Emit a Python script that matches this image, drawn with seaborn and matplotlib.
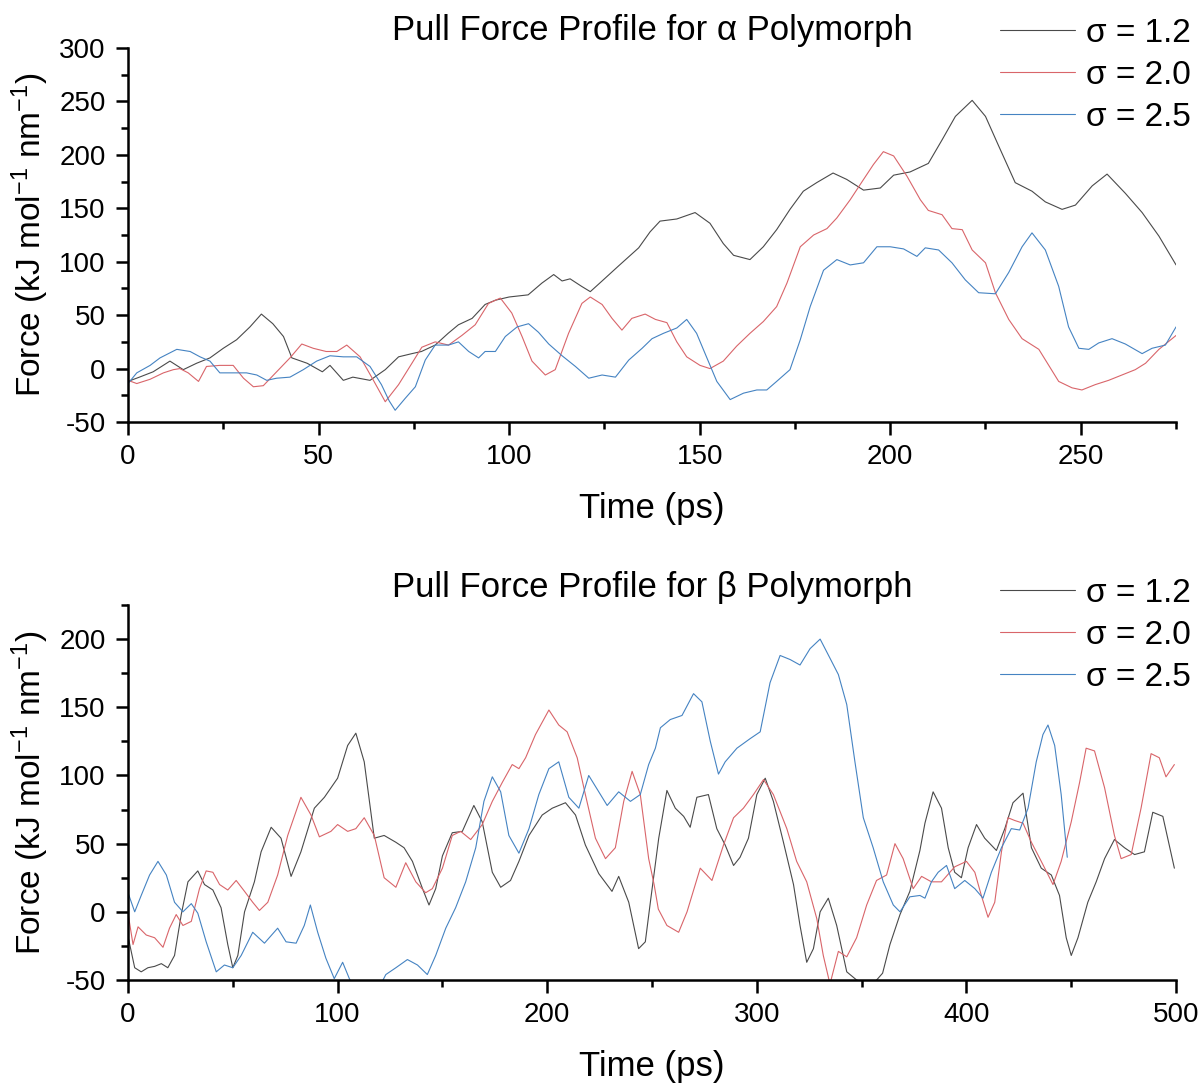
import numpy as np
import pandas as pd
import matplotlib
matplotlib.use("Agg")
import matplotlib.pyplot as plt
from matplotlib.ticker import MultipleLocator
import seaborn as sns

# ---------------- data: alpha polymorph ----------------
alpha_s12_t = [0, 3, 6.6, 11, 14.5, 18, 21.5, 25, 28.5, 32, 35, 38, 40.8, 43, 47, 51, 53, 56.5, 59, 63.5,
               67.5, 71, 74.5, 77, 80.6, 84, 86.7, 90.3, 93.7, 96.4, 100, 105, 108.6, 111.7, 113.9, 116, 119,
               121.3, 124.4, 128.7, 134, 137, 139.6, 144, 148.8, 152.7, 156.2, 158.9, 163.2, 166.7, 170.2,
               173.7, 177.2, 180.7, 185, 188.6, 193, 197.4, 200.9, 205.2, 210, 213.6, 217.1, 221.5, 225,
               228.5, 232.8, 237.2, 240.7, 245.1, 248.6, 253, 256.9, 261.7, 266.1, 270.5, 275]
alpha_s12_v = [-12, -8, -3, 7, -1, 5, 10, 19, 27, 39, 51, 42, 30, 10, 5, -3, 3, -11, -8, -11,
               -1, 11, 14, 16, 22, 33, 41, 47, 60, 64, 67, 69, 80, 88, 82, 84, 77,
               72, 82, 96, 113, 128, 138, 140, 146, 136, 117, 106, 102, 114, 130,
               149, 166, 174, 183, 177, 167, 169, 181, 184, 192, 214, 236, 251, 236,
               208, 174, 166, 156, 149, 153, 171, 182, 164, 146, 124, 97]

alpha_s20_t = [0, 2.3, 5.8, 9.3, 11.9, 13.6, 15.8, 18.5, 20.6, 24.1, 27.6, 30.3, 32.9, 35.5, 39, 42.5, 45.6,
               48.6, 52, 54.8, 57.4, 60.9, 64.4, 67.5, 71, 74.5, 77.1, 80.6, 84.1, 87.6, 91.1, 94.6, 97.7,
               100.7, 103.4, 106, 109.5, 112.1, 115.6, 119.1, 121.3, 124.4, 127, 129.6, 132.2, 135.7, 138.4,
               141.4, 144, 146.6, 150.1, 152.7, 156.2, 159.7, 163.2, 166.7, 170.2, 172.9, 176.4, 179.9,
               183.4, 186, 189.5, 193, 195.6, 198.2, 200.9, 204.4, 207.9, 210, 213.6, 216.2, 218.9, 221.5,
               225, 227.6, 231.1, 234.6, 239, 241.6, 244.2, 247.7, 250.3, 253.8, 257.3, 260.8, 264.3, 267,
               270.5, 275]
alpha_s20_v = [-11, -14, -10, -4, -1, 0, -4, -12, 2, 3, 3, -9, -17, -16, -3, 10, 23,
               19, 16, 16, 22, 11, -11, -31, -15, 5, 20, 25, 22, 31, 41, 61, 66,
               52, 30, 7, -6, -1, 33, 61, 67, 60, 47, 36, 47, 51, 46,
               43, 25, 11, 3, 0, 7, 21, 33, 44, 58, 80, 114, 125,
               131, 141, 158, 177, 191, 203, 199, 180, 158, 148, 144, 131, 130, 111,
               99, 71, 46, 28, 18, 3, -12, -18, -20, -15, -11, -6, -1, 5,
               18, 31]

alpha_s25_t = [0, 2.3, 5.8, 8.4, 12.8, 16.3, 18.9, 21.5, 24.1, 27.6, 31.1, 33.8, 36.4, 39, 42.5, 46, 49.5,
               53, 56.5, 60, 63.5, 66.5, 68.5, 70.1, 72.7, 75.4, 78, 80.6, 84.1, 86.7, 89.4, 92, 93.7, 96.4,
               99, 102.1, 105.1, 107.7, 110.4, 113.9, 117.4, 120.9, 124.4, 127.9, 131.4, 134.9, 137.5,
               140.5, 144, 146.6, 149.2, 151.9, 154.5, 158, 161.5, 165, 167.6, 170.2, 173.7, 176.4, 179,
               182.5, 186, 189.5, 193, 196.5, 200, 203.5, 207, 209.2, 212.7, 216.2, 219.7, 223.2, 227.6,
               231.1, 234.6, 237.2, 240.7, 244.2, 246.8, 249.5, 252.1, 254.7, 258.2, 261.7, 266.1, 268.7,
               272.2, 275]
alpha_s25_v = [-14, -4, 3, 10, 18, 16, 11, 7, -4, -4, -4, -6, -11, -9, -8, -1, 7,
               12, 11, 11, 2, -15, -30, -39, -28, -17, 8, 22, 22, 25, 16, 10, 16, 16,
               30, 39, 42, 34, 23, 12, 2, -9, -6, -8, 8, 19, 28,
               33, 38, 46, 33, 10, -12, -29, -23, -20, -20, -12, -1, 27, 58,
               92, 102, 97, 99, 114, 114, 112, 105, 113, 111, 99, 83, 71, 70,
               90, 114, 127, 111, 77, 39, 19, 18, 24, 28, 23, 14, 19,
               22, 39]

# ---------------- data: beta polymorph ----------------
beta_s12_t = [0, 3.2, 6.3, 9.5, 12.7, 15.9, 19, 22.2, 25.4, 28.6, 33.3, 36.5, 40.5, 44.4, 47.6, 50, 52.4,
              55.6, 60.3, 63.5, 68.3, 73, 77.8, 82.5, 88.9, 93.7, 100, 104.8, 108.7, 112.7, 117.5, 122.2,
              127.8, 131.7, 135.7, 140.5, 143.6, 146.8, 150, 154.7, 159.5, 165, 169, 173.8, 177.8, 182.5,
              186.5, 191.3, 197.6, 202.4, 208.7, 213.5, 218.2, 224.6, 230.9, 234.1, 238.9, 243.6, 246.8,
              249.2, 253.2, 257.1, 261.1, 265.1, 268.2, 271.4, 276.9, 280.9, 284.9, 288.9, 292, 296, 300,
              304, 307.9, 312.7, 317.5, 320.6, 323.8, 327, 330.2, 334.1, 338.1, 342.9, 347.6, 352.4, 356,
              360, 363.5, 368.3, 373, 375.4, 377.8, 380.2, 384.1, 388.1, 391.3, 394.4, 397.6, 400.8, 404.8,
              408.7, 414.3, 418.3, 422.2, 427, 431, 435.7, 440.5, 444.4, 447.6, 450, 453.2, 457.9, 461.9,
              465.9, 470.6, 475.4, 480.2, 484.9, 488.9, 493.7, 499.2]
beta_s12_v = [-18, -41, -44, -41, -40, -38, -41, -32, -2, 22, 30, 20, 16, 3, -24, -41, -32,
              0, 22, 44, 62, 54, 26, 44, 76, 84, 98, 122, 131, 110, 54, 56,
              51, 47, 37, 17, 5, 17, 41, 58, 59, 78, 66, 29, 18, 23,
              37, 56, 71, 76, 80, 71, 49, 28, 15, 26, 7, -27, -22,
              7, 54, 89, 76, 70, 62, 84, 86, 61, 49, 34, 40, 54, 86,
              98, 81, 51, 20, -10, -37, -27, 0, 10, -10, -44, -50, -53, -52,
              -45, -24, -2, 15, 30, 45, 65, 88, 76, 47, 29, 25, 47, 64,
              54, 45, 61, 80, 87, 47, 32, 27, 12, -19, -32, -19, 7, 22,
              39, 53, 47, 42, 44, 73, 70, 32]

beta_s20_t = [0, 2.4, 4.8, 8.7, 12.7, 16.7, 19.8, 23, 26.2, 30.2, 34.1, 37.3, 40.5, 43.7, 47.6, 51.6, 55.6,
              59.5, 62.7, 66.7, 71.4, 76.2, 82.5, 87.3, 91.3, 96.8, 100, 104.8, 108.7, 112.7, 117.5, 122.2,
              127.8, 132.5, 137.3, 142, 145.2, 150, 154.7, 158.7, 163.5, 169, 173.8, 178.6, 183.3, 186.5,
              189.7, 194.4, 200.8, 205.5, 209.5, 214.3, 218.2, 223, 227.8, 232.5, 236.5, 240.5, 244.4,
              248.4, 251, 253, 257.1, 262.7, 266.7, 273, 278.6, 284.1, 288.9, 293.6, 298.4, 303.2, 307.9,
              314.3, 319, 323.8, 328.6, 331.7, 334.9, 338.9, 342.9, 347.6, 352.4, 357.1, 361.9, 365.9,
              369.8, 374.6, 378.6, 383.3, 388.1, 394.4, 400, 404, 407.1, 410.3, 413.5, 416.7, 419.8, 423,
              427, 431, 435.7, 441.3, 445.2, 450, 454, 457.1, 461.1, 465.9, 470.6, 473.8, 478.6, 483.3,
              488.1, 492, 495.2, 499.2]
beta_s20_v = [-1, -24, -11, -17, -19, -26, -12, -2, -10, -7, 17, 30, 29, 20, 16, 23, 15,
              7, 1, 7, 27, 56, 84, 71, 55, 59, 64, 59, 61, 69, 56, 25,
              18, 36, 22, 14, 17, 32, 56, 59, 53, 64, 81, 95, 108, 105,
              113, 130, 148, 137, 132, 113, 86, 54, 39, 47, 81, 103, 86,
              39, 20, 2, -10, -15, 0, 32, 23, 49, 69, 76, 86, 97, 86,
              61, 37, 22, -5, -32, -53, -29, -33, -19, 5, 23, 27, 50,
              39, 17, 26, 22, 22, 33, 37, 29, 12, -4, 7, 44, 69, 67,
              65, 51, 37, 20, 37, 66, 95, 120, 118, 91, 56, 39, 42, 76,
              116, 113, 99, 108]

beta_s25_t = [0, 3.2, 6.3, 10.3, 14.3, 18.3, 22.2, 26.2, 30.2, 33.3, 37.3, 42.1, 46, 50, 54, 59.5, 65.1,
              71.4, 75.4, 80.2, 84.1, 87, 90.5, 94.4, 98.4, 102.4, 105.6, 108, 112, 117, 121, 123, 127.8,
              133.3, 138.1, 142.8, 146.8, 151.6, 156.3, 161.1, 165.9, 169.8, 173.8, 177.8, 181.7, 186.5,
              191.3, 196, 200.8, 205.5, 210.3, 215.1, 219.8, 224.6, 228.6, 234.1, 239.7, 244.4, 248.4,
              251.6, 254, 258.7, 264.3, 269.8, 273.8, 277.8, 281.7, 284.9, 290.5, 296.8, 301.6, 306.3,
              311.1, 315.9, 320.6, 325.4, 330.2, 334.9, 338.9, 342.9, 346.8, 350.8, 355.5, 360.3, 365.1,
              368.3, 373, 377.8, 380.2, 383.3, 386.5, 390.5, 394.4, 399.2, 404, 407.9, 411.9, 416.7, 421.4,
              425.4, 429.4, 433.3, 436.5, 438.9, 442.1, 445.2, 448.1]
beta_s25_v = [14, 0, 12, 27, 37, 27, 7, 0, 6, -1, -22, -44, -39, -41, -32, -15, -23,
              -12, -22, -23, -10, 5, -15, -34, -49, -37, -49, -56, -62, -60, -52, -46, -41,
              -35, -39, -46, -32, -12, 3, 22, 47, 81, 99, 88, 56, 43,
              61, 86, 105, 110, 84, 76, 100, 88, 78, 88, 81, 86, 108,
              120, 135, 141, 144, 160, 154, 125, 101, 110, 120, 127, 132, 168,
              188, 185, 181, 193, 200, 186, 174, 152, 110, 69, 47, 22, 5,
              0, 11, 12, 10, 22, 29, 34, 17, 23, 17, 10, 29, 47, 61,
              60, 76, 110, 130, 137, 122, 86, 40]

sigma_labels = ["\u03c3 = 1.2", "\u03c3 = 2.0", "\u03c3 = 2.5"]
colors = ["#4a4a4a", "#d9656a", "#4583c2"]


def long_df(series):
    frames = []
    for lab, (t, v) in zip(sigma_labels, series):
        frames.append(pd.DataFrame({"time": t, "force": v, "sigma": lab}))
    return pd.concat(frames, ignore_index=True)


df_a = long_df([(alpha_s12_t, alpha_s12_v), (alpha_s20_t, alpha_s20_v), (alpha_s25_t, alpha_s25_v)])
df_b = long_df([(beta_s12_t, beta_s12_v), (beta_s20_t, beta_s20_v), (beta_s25_t, beta_s25_v)])

sns.set_style("ticks")
plt.rcParams["font.family"] = ["Liberation Sans", "DejaVu Sans"]
plt.rcParams["mathtext.fontset"] = "custom"
plt.rcParams["mathtext.rm"] = "Liberation Sans"
plt.rcParams["mathtext.it"] = "Liberation Sans:italic"
plt.rcParams["mathtext.bf"] = "Liberation Sans:bold"
plt.rcParams["text.color"] = "black"
plt.rcParams["axes.labelcolor"] = "black"

fig = plt.figure(figsize=(12.03, 10.86), dpi=100)
ax1 = fig.add_axes([0.1064, 0.6114, 0.8712, 0.3444])
ax2 = fig.add_axes([0.1064, 0.0976, 0.8712, 0.3453])

panels = [
    (ax1, df_a, "Pull Force Profile for \u03b1 Polymorph", (0, 275), (-50, 300), 50, 25, 1.08),
    (ax2, df_b, "Pull Force Profile for \u03b2 Polymorph", (0, 500), (-50, 225), 100, 50, 1.073),
]

for ax, df, title, xl, yl, xmaj, xmin, legy in panels:
    sns.lineplot(data=df, x="time", y="force", hue="sigma", palette=colors,
                 estimator=None, sort=False, linewidth=0.8, ax=ax)
    ax.set_xlim(*xl)
    ax.set_ylim(*yl)
    ax.xaxis.set_major_locator(MultipleLocator(xmaj))
    ax.xaxis.set_minor_locator(MultipleLocator(xmin))
    ax.yaxis.set_major_locator(MultipleLocator(50))
    ax.yaxis.set_minor_locator(MultipleLocator(25))
    if yl[1] == 225:
        ax.set_yticks([-50, 0, 50, 100, 150, 200])
    for s in ["top", "right"]:
        ax.spines[s].set_visible(False)
    for s in ["left", "bottom"]:
        ax.spines[s].set_linewidth(1.8)
        ax.spines[s].set_color("black")
    ax.tick_params(which="major", direction="out", length=9, width=1.8, labelsize=20,
                   colors="black")
    ax.tick_params(which="minor", direction="out", length=5, width=1.8, colors="black")
    ax.tick_params(axis="x", which="major", pad=7)
    ax.tick_params(axis="y", which="major", pad=7)
    ax.set_xlabel("Time (ps)", fontsize=25, labelpad=16)
    ax.set_ylabel("Force (kJ mol$^{-1}$ nm$^{-1}$)", fontsize=24, labelpad=6)
    ax.set_title(title, fontsize=25, pad=6)
    ax.legend(loc="upper left", bbox_to_anchor=(0.832, legy), frameon=False, fontsize=24,
              handlelength=2.25, handletextpad=0.33, labelspacing=0.33, borderaxespad=0,
              borderpad=0)
    ax.set_yticklabels([f"{int(v)}" for v in ax.get_yticks()])

fig.savefig("out.png", dpi=100)
